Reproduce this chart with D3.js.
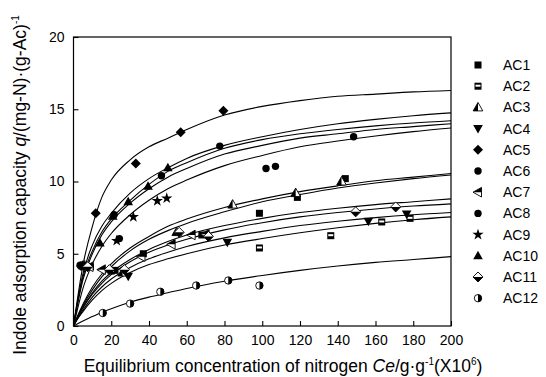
<!DOCTYPE html>
<html><head><meta charset="utf-8">
<script src="https://cdn.jsdelivr.net/npm/d3@7"></script>
<style>body{margin:0;background:#fff}svg{font-family:Arial,"Liberation Sans",sans-serif}</style>
</head><body><svg id="c" width="546" height="377"></svg>
<script>
// ---------- data ----------
const seriesNames = ["AC1","AC2","AC3","AC4","AC5","AC6","AC7","AC8","AC9","AC10","AC11","AC12"];
const markerTypes = ["square","squareHalf","triHalf","triDown","diamond","circle","triLeftHalf","circle","star","triUp","diamondHalf","circleHalf"];
const xTicks = [0,20,40,60,80,100,120,140,160,180,200];
const yTicks = [0,5,10,15,20];

// measured points
const ptsAC1  = [[4.5,4.15],[22,3.85],[37,5.0],[68,6.3],[98.5,7.8],[118.6,8.9],[144,10.2]];
const ptsAC2  = [[9,4.1],[20,3.8],[98.5,5.4],[136.3,6.25],[163.3,7.2],[178.3,7.45]];
const ptsAC3  = [[7,4.15],[26,3.7],[54.7,6.5],[84.3,8.4],[117.7,9.2],[142,10.0]];
const ptsAC4  = [[5.5,4.1],[29,3.45],[81.5,5.8],[156.2,7.25],[176.5,7.75]];
const ptsAC5  = [[4,4.15],[11.8,7.8],[33,11.25],[56.8,13.4],[79.4,14.9]];
const ptsAC6  = [[5.2,4.15],[24.3,6.05],[46.6,10.4],[102,10.9],[107,11.05]];
const ptsAC7  = [[8.5,4.1],[15,3.9],[36,4.8],[52,5.65],[62.6,6.3],[70,6.35]];
const ptsAC8  = [[3.5,4.2],[21.5,7.7],[77.5,12.45],[148.4,13.1]];
const ptsAC9  = [[6,4.2],[22.9,5.9],[31.7,7.55],[44.4,8.66],[49.4,8.84]];
const ptsAC10 = [[4.8,4.2],[14,5.75],[20.8,7.6],[29,8.6],[39.5,9.67],[50,10.95]];
const ptsAC11 = [[7.5,4.1],[19,3.9],[27,3.9],[56,6.48],[71.5,6.2],[149.5,7.9],[170.7,8.24]];
const ptsAC12 = [[15.5,0.9],[30,1.55],[46,2.37],[65,2.8],[82,3.15],[98.5,2.8]];

// fitted curves at these concentrations
const curveX  = [0,2,5,10,15,20,30,40,50,60,80,100,120,140,160,180,200];
const fitAC1  = [0,0.6,1.4,2.5,3.4,4.1,5.2,6.0,6.6,7.1,7.9,8.6,9.1,9.55,9.9,10.2,10.45];
const fitAC2  = [0,0.45,1.0,1.8,2.45,2.95,3.7,4.25,4.65,5.0,5.6,6.05,6.45,6.8,7.1,7.35,7.55];
const fitAC3  = [0,0.65,1.5,2.7,3.6,4.3,5.4,6.2,6.9,7.4,8.2,8.8,9.3,9.7,10.05,10.3,10.55];
const fitAC4  = [0,0.48,1.1,2.0,2.7,3.25,4.05,4.65,5.1,5.5,6.1,6.55,6.95,7.25,7.5,7.7,7.85];
const fitAC5  = [0,1.8,4.2,6.9,8.9,10.1,11.5,12.4,13.0,13.6,14.6,15.2,15.6,15.9,16.05,16.2,16.3];
const fitAC6  = [0,1.4,3.2,5.0,6.3,7.2,8.5,9.5,10.3,10.9,11.9,12.5,13.0,13.3,13.6,13.8,14.0];
const fitAC7  = [0,0.55,1.25,2.2,2.95,3.55,4.45,5.1,5.6,6.0,6.65,7.15,7.55,7.85,8.1,8.3,8.45];
const fitAC8  = [0,1.6,3.6,5.6,6.9,7.8,9.2,10.2,10.95,11.6,12.5,13.1,13.6,14.0,14.3,14.55,14.75];
const fitAC9  = [0,1.1,2.6,4.3,5.5,6.4,7.7,8.7,9.5,10.1,11.1,11.8,12.4,12.8,13.15,13.45,13.7];
const fitAC10 = [0,1.5,3.4,5.2,6.5,7.4,8.7,9.8,10.7,11.3,12.3,12.9,13.3,13.6,13.85,14.05,14.2];
const fitAC11 = [0,0.57,1.3,2.3,3.1,3.7,4.6,5.3,5.85,6.3,6.95,7.45,7.85,8.15,8.4,8.6,8.8];
const fitAC12 = [0,0.14,0.35,0.65,0.95,1.2,1.65,2.0,2.3,2.6,3.1,3.5,3.85,4.15,4.4,4.6,4.8];

const allPts = [ptsAC1,ptsAC2,ptsAC3,ptsAC4,ptsAC5,ptsAC6,ptsAC7,ptsAC8,ptsAC9,ptsAC10,ptsAC11,ptsAC12];
const allFits = [fitAC1,fitAC2,fitAC3,fitAC4,fitAC5,fitAC6,fitAC7,fitAC8,fitAC9,fitAC10,fitAC11,fitAC12];

// ---------- layout ----------
const L = 73.5, R = 451, T = 37, B = 326;
const svg = d3.select("#c");
const x = d3.scaleLinear().domain([0,200]).range([L,R]);
const y = d3.scaleLinear().domain([0,20]).range([B,T]);

// curves
const line = d3.line().x(d=>x(d[0])).y(d=>y(d[1])).curve(d3.curveMonotoneX);
allFits.forEach(f=>{
  svg.append("path").attr("d", line(curveX.map((cx,i)=>[cx,f[i]])))
    .attr("fill","none").attr("stroke","#000").attr("stroke-width",1.1);
});

// markers
function marker(g, type, cx, cy){
  const poly = p => "M"+p.map(q=>q.join(",")).join("L")+"Z";
  const blk = "#000", wht = "#fff";
  switch(type){
    case "square":
      g.append("rect").attr("x",cx-3.5).attr("y",cy-3.5).attr("width",7).attr("height",7).attr("fill",blk); break;
    case "squareHalf":
      g.append("rect").attr("x",cx-3.5).attr("y",cy-3.5).attr("width",7).attr("height",7).attr("fill",blk);
      g.append("rect").attr("x",cx-2.5).attr("y",cy-1.5).attr("width",5).attr("height",2).attr("fill",wht); break;
    case "triUp":
      g.append("path").attr("d",poly([[cx,cy-5],[cx+4.8,cy+3.5],[cx-4.8,cy+3.5]])).attr("fill",blk); break;
    case "triHalf":
      g.append("path").attr("d",poly([[cx,cy-5],[cx+4.8,cy+3.5],[cx-4.8,cy+3.5]])).attr("fill",wht).attr("stroke",blk).attr("stroke-width",0.9);
      g.append("path").attr("d",poly([[cx,cy-5],[cx,cy+3.5],[cx-4.8,cy+3.5]])).attr("fill",blk); break;
    case "triDown":
      g.append("path").attr("d",poly([[cx,cy+5],[cx+4.8,cy-3.5],[cx-4.8,cy-3.5]])).attr("fill",blk); break;
    case "triLeftHalf":
      g.append("path").attr("d",poly([[cx-5,cy],[cx+3.5,cy-4.8],[cx+3.5,cy+4.8]])).attr("fill",wht).attr("stroke",blk).attr("stroke-width",0.9);
      g.append("path").attr("d",poly([[cx-5,cy],[cx+3.5,cy-4.8],[cx+3.5,cy]])).attr("fill",blk); break;
    case "diamond":
      g.append("path").attr("d",poly([[cx,cy-5],[cx+5,cy],[cx,cy+5],[cx-5,cy]])).attr("fill",blk); break;
    case "diamondHalf":
      g.append("path").attr("d",poly([[cx,cy-5],[cx+5,cy],[cx,cy+5],[cx-5,cy]])).attr("fill",wht).attr("stroke",blk).attr("stroke-width",0.9);
      g.append("path").attr("d",poly([[cx+5,cy],[cx,cy+5],[cx-5,cy]])).attr("fill",blk); break;
    case "circle":
      g.append("circle").attr("cx",cx).attr("cy",cy).attr("r",3.7).attr("fill",blk); break;
    case "circleHalf":
      g.append("circle").attr("cx",cx).attr("cy",cy).attr("r",3.7).attr("fill",wht).attr("stroke",blk).attr("stroke-width",0.9);
      g.append("path").attr("d",`M${cx},${cy-3.7}A3.7,3.7 0 0 1 ${cx},${cy+3.7}Z`).attr("fill",blk); break;
    case "star":
      g.append("path").attr("d", d3.symbol(d3.symbolStar, 40)()).attr("transform",`translate(${cx},${cy})`).attr("fill",blk); break;
  }
}
allPts.forEach((pts,i)=>{
  const g = svg.append("g");
  pts.forEach(p=>marker(g, markerTypes[i], x(p[0]), y(p[1])));
});

// frame
svg.append("rect").attr("x",L).attr("y",T).attr("width",R-L).attr("height",B-T)
  .attr("fill","none").attr("stroke","#000").attr("stroke-width",1.2);

// axes with inward ticks
const xa = svg.append("g").attr("transform",`translate(0,${B})`)
  .call(d3.axisBottom(x).tickValues(xTicks).tickSizeInner(-5).tickSizeOuter(0).tickPadding(9));
const ya = svg.append("g").attr("transform",`translate(${L},0)`)
  .call(d3.axisLeft(y).tickValues(yTicks).tickSizeInner(-5).tickSizeOuter(0).tickPadding(9));
[xa,ya].forEach(a=>{
  a.select(".domain").remove();
  a.selectAll("text").attr("font-size",14).attr("fill","#000").attr("font-family","Arial, Liberation Sans, sans-serif");
  a.selectAll("line").attr("stroke","#000").attr("stroke-width",1.1);
});

// legend
seriesNames.forEach((n,i)=>{
  const ly = 65 + i*21.2;
  const g = svg.append("g");
  marker(g, markerTypes[i], 478, ly);
  svg.append("text").attr("x",503).attr("y",ly+5).attr("font-size",14).text(n);
});

// axis titles
const xt = svg.append("text").attr("x",283).attr("y",372).attr("text-anchor","middle").attr("font-size",17.5);
xt.append("tspan").text("Equilibrium concentration of nitrogen ");
xt.append("tspan").attr("font-style","italic").text("Ce");
xt.append("tspan").text("/g·g");
xt.append("tspan").attr("font-size",10).attr("dy",-7).text("-1");
xt.append("tspan").attr("dy",7).text("(X10");
xt.append("tspan").attr("font-size",10).attr("dy",-7).text("6");
xt.append("tspan").attr("dy",7).text(")");

const yt = svg.append("text").attr("transform","translate(26,185) rotate(-90)").attr("text-anchor","middle").attr("font-size",17.5);
yt.append("tspan").text("Indole adsorption capacity ");
yt.append("tspan").attr("font-style","italic").text("q");
yt.append("tspan").text("/(mg-N)·(g-Ac)");
yt.append("tspan").attr("font-size",10).attr("dy",-7).text("-1");
</script></body></html>
